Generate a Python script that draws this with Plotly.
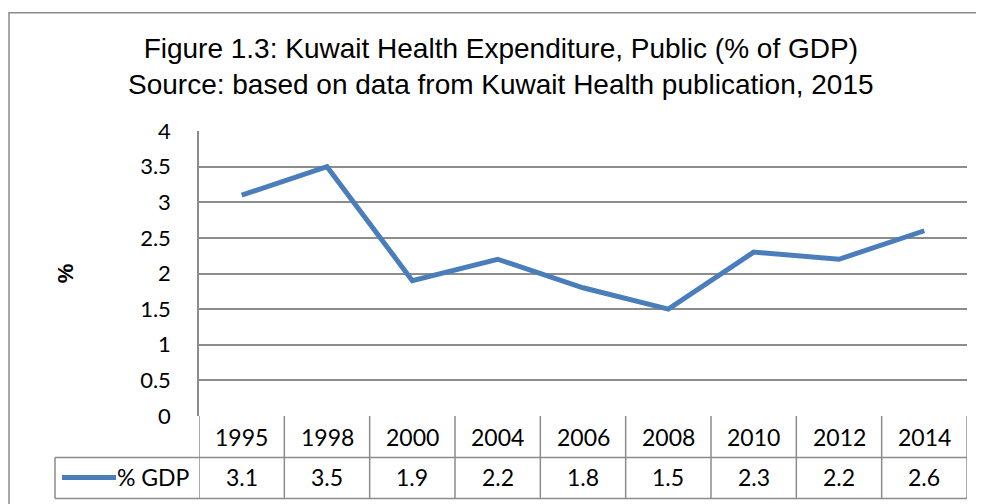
import plotly.graph_objects as go

years = ["1995", "1998", "2000", "2004", "2006", "2008", "2010", "2012", "2014"]
gdp_pct = [3.1, 3.5, 1.9, 2.2, 1.8, 1.5, 2.3, 2.2, 2.6]
series_name = "% GDP"
title_lines = ["Figure 1.3: Kuwait Health Expenditure, Public (% of GDP)",
               "Source: based on data from Kuwait Health publication, 2015"]
y_title = "%"
y_ticks = [0, 0.5, 1, 1.5, 2, 2.5, 3, 3.5, 4]

OFF = 8  # page body margin
W, H = 984 - OFF, 504 - OFF
L, R, T, B = 199 - OFF, 967 - OFF, 131 - OFF, 415.6 - OFF
pw, ph = R - L, B - T

def px(x):
    return (x - OFF - L) / pw

def py(y):
    return (B - (y - OFF)) / ph

BLUE = "#4A7EBB"
GRID = "#8C8C8C"
TFONT = "Lato"
TSIZE = 23

fig = go.Figure()
fig.add_trace(go.Scatter(
    x=list(range(len(years))), y=gdp_pct, mode="lines", name=series_name,
    line=dict(color=BLUE, width=5), showlegend=False, hoverinfo="skip"))

shapes = []
shapes.append(dict(type="rect", xref="paper", yref="paper",
                   x0=px(9), x1=px(1000), y0=py(530), y1=py(13),
                   line=dict(color="#8A8A8A", width=1.5), layer="below"))
row1_bot = py(457)
row2_bot = py(498)
n = len(years)
for i in range(n + 1):
    shapes.append(dict(type="line", xref="x", yref="paper", x0=i - 0.5, x1=i - 0.5,
                       y0=0, y1=row2_bot, line=dict(color=GRID, width=1.5)))
shapes.append(dict(type="line", xref="paper", yref="paper", x0=px(55), x1=px(55),
                   y0=row1_bot, y1=row2_bot, line=dict(color=GRID, width=1.5)))
for yy in (row1_bot, row2_bot):
    shapes.append(dict(type="line", xref="paper", yref="paper", x0=px(55), x1=1,
                       y0=yy, y1=yy, line=dict(color=GRID, width=1.5)))
shapes.append(dict(type="line", xref="paper", yref="paper", x0=px(62), x1=px(116),
                   y0=py(477), y1=py(477), line=dict(color=BLUE, width=5)))

def txt(**kw):
    kw.setdefault("showarrow", False)
    kw.setdefault("xanchor", "center")
    kw.setdefault("yanchor", "middle")
    return dict(**kw)

annotations = []
for i, (yr, v) in enumerate(zip(years, gdp_pct)):
    annotations.append(txt(x=i, y=py(437), xref="x", yref="paper", text=yr,
                           font=dict(family=TFONT, size=TSIZE, color="#000")))
    annotations.append(txt(x=i, y=py(477), xref="x", yref="paper", text=f"{v}",
                           font=dict(family=TFONT, size=TSIZE, color="#000")))
annotations.append(txt(x=px(192), y=py(477), xref="paper", yref="paper", text=series_name,
                       xanchor="right", font=dict(family=TFONT, size=TSIZE, color="#000")))
annotations.append(txt(x=px(65), y=py(273), xref="paper", yref="paper",
                       text="<b>" + y_title + "</b>", textangle=-90,
                       font=dict(family="Liberation Sans", size=22, color="#000")))
annotations.append(txt(x=px(501), y=py(67), xref="paper", yref="paper",
                       text="<br>".join(title_lines),
                       font=dict(family="Liberation Sans", size=28, color="#000")))

fig.update_layout(
    width=W, height=H, margin=dict(l=L, r=W - R, t=T, b=H - B),
    paper_bgcolor="white", plot_bgcolor="white",
    shapes=shapes, annotations=annotations,
    xaxis=dict(range=[-0.5, n - 0.5], showticklabels=False, showgrid=False,
               zeroline=False, showline=False, fixedrange=True),
    yaxis=dict(range=[0, 4], tickvals=y_ticks, ticktext=[f"{t:g}" for t in y_ticks],
               showgrid=True, gridcolor=GRID, gridwidth=1.5, zeroline=False,
               showline=True, linecolor=GRID, linewidth=1.5,
               tickfont=dict(family=TFONT, size=22, color="#000"),
               ticklabelstandoff=22, fixedrange=True),
)
fig.write_html("out.html")
